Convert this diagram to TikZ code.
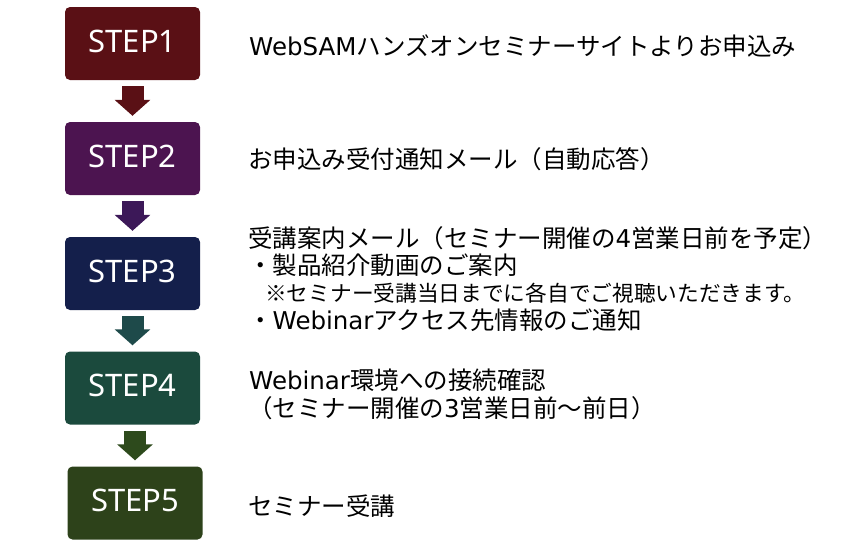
\documentclass[tikz,border=0pt]{standalone}
\usepackage{fontspec}
\setmainfont{Noto Sans CJK JP}
\newfontfamily\stepfont{Noto Sans}
\newfontfamily\latinfont{DejaVu Sans}
\usetikzlibrary{arrows.meta}
\definecolor{stepred}{HTML}{5A1015}
\definecolor{steppurple}{HTML}{4C1450}
\definecolor{stepnavy}{HTML}{141F4B}
\definecolor{stepteal}{HTML}{1B4A3D}
\definecolor{stepgreen}{HTML}{2D421A}
\definecolor{flowpurple}{HTML}{3C1858}
\definecolor{flowteal}{HTML}{1E4A4A}
\definecolor{flowgreen}{HTML}{2D4A1C}
\newcommand{\lat}[1]{{\latinfont #1}}
\begin{document}
\begin{tikzpicture}[
			x=1pt, y=-1pt,
			stepbox/.style={rounded corners=5pt, minimum width=135pt, minimum height=73pt,
				text depth=5pt, text=white, font=\stepfont\fontsize{31}{36}\selectfont},
			flow/.style={line width=22pt, -{Triangle[length=16pt,width=35pt]},
				shorten <=6pt, shorten >=6pt},
			desc/.style={anchor=base west, inner sep=0pt, font=\fontsize{24.5}{28}\selectfont},
			note/.style={desc, font=\fontsize{21.7}{26}\selectfont}
			]
			\useasboundingbox (0,0) rectangle (860,558);
			\node[stepbox, fill=stepred] (s1) at (132.5,43.5) {STEP1};
			\node[stepbox, fill=steppurple] (s2) at (132.5,158.5) {STEP2};
			\node[stepbox, fill=stepnavy] (s3) at (132.5,273.5) {STEP3};
			\node[stepbox, fill=stepteal] (s4) at (132.5,388) {STEP4};
			\node[stepbox, fill=stepgreen] (s5) at (135,503) {STEP5};
			\draw[flow, stepred] (s1) -- (s2);
			\draw[flow, flowpurple] (s2) -- (s3);
			\draw[flow, flowteal] (s3) -- (s4);
			\draw[flow, flowgreen] (s5.north |- s4.south) -- (s5.north);
			\node[desc] (t1) at (249,55) {\lat{WebSAM}ハンズオンセミナーサイトよりお申込み};
			\node[desc] (t2) at (248,168) {お申込み受付通知メール（自動応答）};
			\node[desc] (t3a) at (248,247) {受講案内メール（セミナー開催の\lat{4}営業日前を予定）};
			\node[desc] (t3b) at (248,274) {・製品紹介動画のご案内};
			\node[note] (t3c) at (265,301) {※セミナー受講当日までに各自でご視聴いただきます。};
			\node[desc] (t3d) at (248,329) {・\lat{Webinar}アクセス先情報のご通知};
			\node[desc] (t4a) at (249,389) {\lat{Webinar}環境への接続確認};
			\node[desc] (t4b) at (248,417) {（セミナー開催の\lat{3}営業日前～前日）};
			\node[desc] (t5) at (248,515) {セミナー受講};
		\end{tikzpicture}
\end{document}
